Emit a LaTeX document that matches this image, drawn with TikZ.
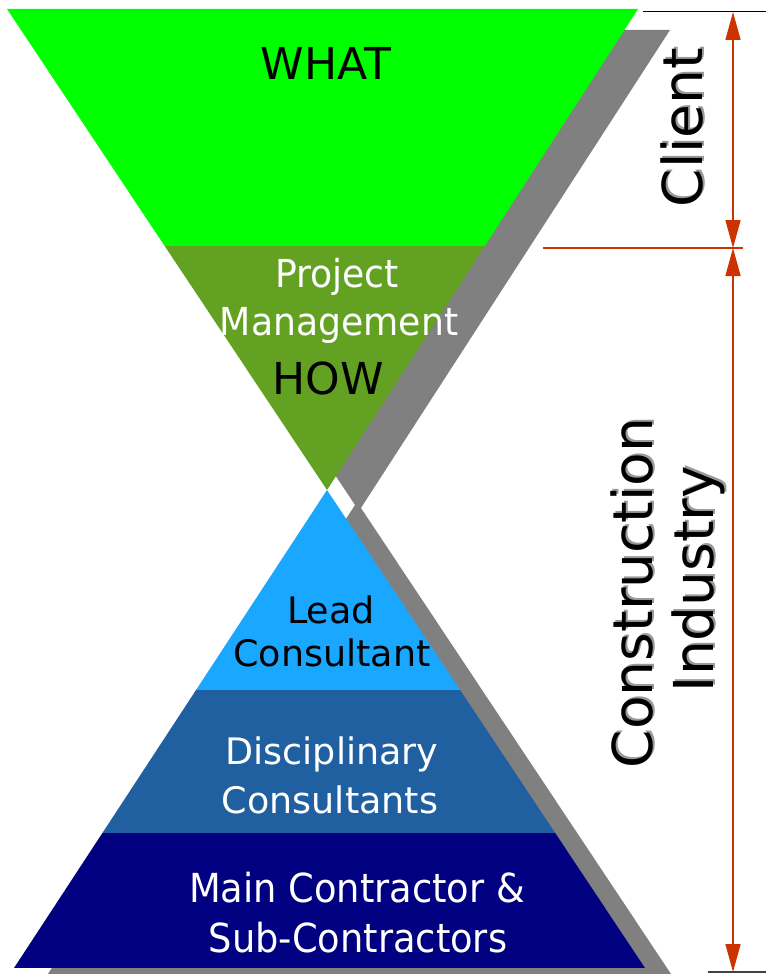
\documentclass[tikz,border=0pt]{standalone}
\usepackage{fontspec}
\setmainfont{DejaVu Sans}
\usetikzlibrary{arrows.meta}
\definecolor{whatgreen}{HTML}{00FF00}
\definecolor{howgreen}{HTML}{63A122}
\definecolor{leadblue}{HTML}{1AA7FF}
\definecolor{discblue}{HTML}{2060A0}
\definecolor{mainnavy}{HTML}{000080}
\definecolor{dimred}{HTML}{CC3300}
\tikzstyle{grayshadow}=[fill=black!50]
\tikzstyle{lbl}=[inner sep=0pt, anchor=base, font=\fontsize{36.5}{40}\selectfont]
\tikzstyle{tallbl}=[lbl, white, font=\fontsize{40}{44}\selectfont]
\tikzstyle{biglbl}=[lbl, font=\fontsize{44}{50}\selectfont]
\tikzstyle{sidelbl}=[inner sep=0pt, anchor=base, rotate=90, font=\fontsize{55}{60}\selectfont]
\tikzset{dimline/.style={dimred, line width=1.5pt,
      {Triangle[length=28pt,width=15pt]}-{Triangle[length=28pt,width=15pt]}}}
\newcommand{\sidelabel}[3]{%
  \node[sidelbl, black!40, xshift=2pt, yshift=-2pt] (#1s) at #2 {#3};
  \node[sidelbl] (#1) at #2 {#3};}

\begin{document}
\begin{tikzpicture}[x=1pt, y=-1pt]
    \useasboundingbox (0,0) rectangle (766,974);
    \coordinate (tl) at (7,9);
    \coordinate (tr) at (638,9);
    \coordinate (mid) at (327,490);
    \coordinate (bl) at (14,968);
    \coordinate (br) at (645,968);
    % shadows
    \fill[grayshadow] ([shift={(32,21)}]tl) -- ([shift={(32,21)}]tr) -- ([shift={(32,21)}]mid) -- cycle;
    \fill[grayshadow] ([shift={(30,12)}]mid) -- ([shift={(30,12)}]br) -- ([shift={(30,12)}]bl) -- cycle;
    % upper funnel
    \begin{scope}
      \clip (tl) -- (tr) -- (mid) -- cycle;
      \fill[whatgreen] (0,0) rectangle (766,246);
      \fill[howgreen] (0,246) rectangle (766,490);
    \end{scope}
    % lower pyramid
    \begin{scope}
      \clip (mid) -- (br) -- (bl) -- cycle;
      \fill[leadblue] (0,490) rectangle (766,690);
      \fill[discblue] (0,690) rectangle (766,833);
      \fill[mainnavy] (0,833) rectangle (766,968);
    \end{scope}
    % labels
    \node[biglbl] (what) at (326,80) {WHAT};
    \node[tallbl, font=\fontsize{38.5}{42}\selectfont] (proj) at (337,287) {\scalebox{0.94}[1]{Project}};
    \node[tallbl, font=\fontsize{38.5}{42}\selectfont] (mgmt) at (339,335) {\scalebox{0.94}[1]{Management}};
    \node[biglbl] (how) at (328,394) {HOW};
    \node[lbl] (lead) at (331,623) {Lead};
    \node[lbl] (cons) at (332,666) {Consultant};
    \node[lbl, white] (disc) at (332,764) {Disciplinary};
    \node[lbl, white] (discc) at (330,813) {Consultants};
    \node[tallbl] (main) at (357,902) {\scalebox{0.92}[1]{Main Contractor \&}};
    \node[tallbl] (sub) at (358,952) {\scalebox{0.92}[1]{Sub-Contractors}};
    % dimensions
    \coordinate (ctop) at (733,12);
    \coordinate (cmid) at (733,248);
    \coordinate (cbot) at (733,972);
    \coordinate (toptick) at (643,12);
    \coordinate (midtick) at (543,248);
    \coordinate (bottick) at (708,972);
    \draw[line width=1pt] (toptick) -- ++(123,0);
    \draw[dimred, line width=2pt] (midtick) -- ++(200,0);
    \draw[black!75, line width=1.5pt] (bottick) -- ++(58,0);
    \draw[dimline] (ctop) -- (cmid);
    \draw[dimline] (cmid) -- (cbot);
    \sidelabel{client}{(702,127.5)}{Client}
    \sidelabel{constr}{(652,593)}{Construction}
    \sidelabel{indus}{(713,579)}{Industry}
\end{tikzpicture}
\end{document}
